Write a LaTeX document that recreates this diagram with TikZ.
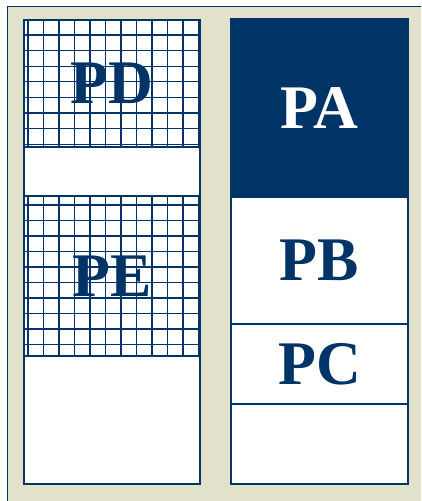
\documentclass[tikz,border=0pt]{standalone}
\usepackage{fontspec}
\setmainfont{Liberation Serif}
\usetikzlibrary{positioning}
\definecolor{navy}{RGB}{0,51,102}
\definecolor{sand}{RGB}{226,225,201}

\begin{document}
\begin{tikzpicture}[
        x=1pt, y=-1pt,
        panel/.style={draw=navy, line width=1.3pt, fill=white, inner sep=0pt, outer sep=0pt, minimum width=#1, text=navy,
            font=\bfseries\fontsize{62}{62}\selectfont},
        gridded/.style n args={3}{path picture={
            \foreach \i in {0,...,11}
                \draw[navy, line width=1.2pt] ([xshift=4pt+15.5pt*\i]path picture bounding box.north west) -- ([xshift=4pt+15.5pt*\i]path picture bounding box.south west);
            \foreach \j in {0,...,#3}
                \draw[navy, line width=1.2pt] ([yshift=-#1-#2*\j]path picture bounding box.north west) -- ([yshift=-#1-#2*\j]path picture bounding box.north east);
        }}
    ]
    \useasboundingbox (0,0) rectangle (421,501);
    \clip (0,0) rectangle (421,501);

    % Frame
    \draw[navy, line width=1.5pt, fill=sand] (7.5,6.5) rectangle (440,520);

    % Left column
    \node[panel=176pt, minimum height=127pt, anchor=north west, gridded={15pt}{15.6pt}{7}] (pd) at (24,20) {PD};
    \node[panel=176pt, minimum height=49pt, below=0pt of pd] (gap) {};
    \node[panel=176pt, minimum height=160pt, below=0pt of gap, gridded={9pt}{15.5pt}{9}] (pe) {PE};
    \node[panel=176pt, minimum height=128pt, below=0pt of pe] (lfree) {};

    % Right column
    \node[panel=177pt, minimum height=178pt, anchor=north west, fill=navy, text=white] (pa) at (231,19) {PA};
    \node[panel=177pt, minimum height=127pt, below=0pt of pa] (pb) {PB};
    \node[panel=177pt, minimum height=80pt, below=0pt of pb] (pc) {PC};
    \node[panel=177pt, minimum height=80pt, below=0pt of pc] (rfree) {};

\end{tikzpicture}
\end{document}
